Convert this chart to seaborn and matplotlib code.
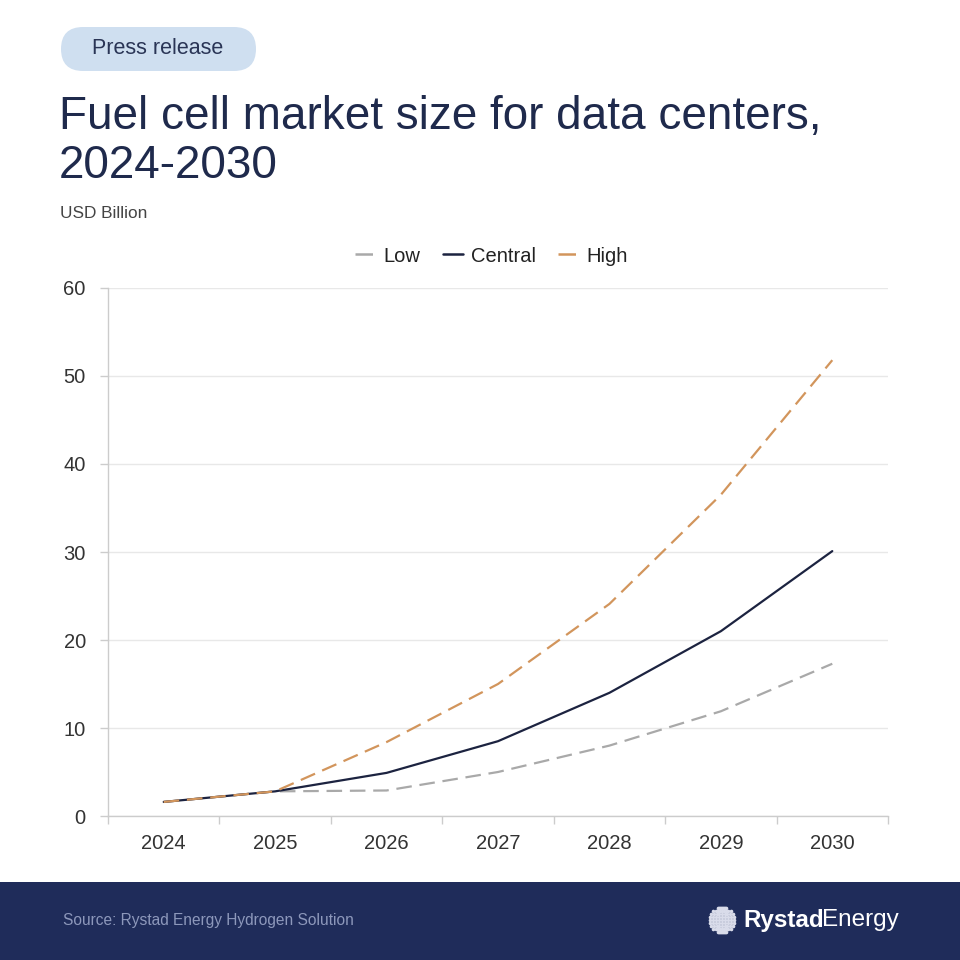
import numpy as np
import pandas as pd
import matplotlib.pyplot as plt
import seaborn as sns
from matplotlib.patches import FancyBboxPatch, Rectangle
from matplotlib.lines import Line2D

years = ['2024', '2025', '2026', '2027', '2028', '2029', '2030']
low = [1.6, 2.8, 2.9, 5.0, 8.0, 11.9, 17.3]
central = [1.6, 2.8, 4.9, 8.5, 14.0, 21.0, 30.1]
high = [1.6, 2.8, 8.4, 15.0, 24.1, 36.5, 51.8]
series = ['Low', 'Central', 'High']
y_ticks = [0, 10, 20, 30, 40, 50, 60]

NAVY = '#1f2a4c'
colors = {'Low': '#a9a9a9', 'Central': '#1c2340', 'High': '#d2955c'}
dashes = {'Low': (7, 3.5), 'Central': '', 'High': (7, 3.5)}

df = pd.DataFrame({'year': list(range(len(years))) * 3,
                   'value': low + central + high,
                   'scenario': [s for s in series for _ in years]})

sns.set_theme(style='white')
plt.rcParams['font.family'] = ['Liberation Sans', 'DejaVu Sans']

fig = plt.figure(figsize=(9.6, 9.6), dpi=100)
ax = fig.add_axes([0.1125, 0.15, 0.8125, 0.55])

sns.lineplot(data=df, x='year', y='value', hue='scenario', style='scenario',
             palette=colors, dashes=dashes, linewidth=1.6, ax=ax, legend=False)

ax.set_xlim(-0.5, len(years) - 0.5)
ax.set_ylim(0, 60)
ax.set_xticks(range(len(years)))
ax.set_xticklabels(years)
ax.set_xticks(np.arange(-0.5, len(years)), minor=True)
ax.set_yticks(y_ticks)
ax.tick_params(axis='x', which='major', length=0, pad=13, labelsize=14.5, labelcolor='#333333')
ax.tick_params(axis='x', which='minor', length=6, width=1, color='#cccccc', direction='out', bottom=True)
ax.tick_params(axis='y', length=6, width=1, color='#cccccc', pad=10, labelsize=14.5, labelcolor='#333333', left=True)
ax.set_xlabel('')
ax.set_ylabel('')
ax.grid(axis='y', color='#e8e8e8', linewidth=1)
for s in ['top', 'right']:
    ax.spines[s].set_visible(False)
for s in ['left', 'bottom']:
    ax.spines[s].set_color('#cccccc')
    ax.spines[s].set_linewidth(1)

handles = [Line2D([], [], color=colors[s], lw=1.8, dashes=dashes[s] if dashes[s] else (None, None))
           for s in series]
fig.legend(handles, series, loc='center', bbox_to_anchor=(0.512, 1 - 256 / 960), ncol=3,
           frameon=False, fontsize=14.5, handlelength=1.0, handletextpad=0.4, columnspacing=1.1,
           labelcolor='#222222')

# header
pill = FancyBboxPatch((61 / 960, 1 - 71 / 960), 195 / 960, 44 / 960,
                      boxstyle='round,pad=0,rounding_size=0.023', transform=fig.transFigure,
                      facecolor='#cfdff0', edgecolor='none')
fig.patches.append(pill)
fig.text(158 / 960, 1 - 49 / 960, 'Press release', ha='center', va='center',
         fontsize=15.5, color='#2a3556')
fig.text(59 / 960, 1 - 129 / 960, 'Fuel cell market size for data centers,', ha='left',
         va='baseline', fontsize=33, color=NAVY)
fig.text(59 / 960, 1 - 178 / 960, '2024-2030', ha='left', va='baseline', fontsize=33, color=NAVY)
fig.text(60 / 960, 1 - 213 / 960, 'USD Billion', ha='left', va='center', fontsize=12.4, color='#444444')

# footer
fig.patches.append(Rectangle((0, 0), 1, 78 / 960, transform=fig.transFigure,
                             facecolor='#1f2c5a', edgecolor='none'))
fig.text(63 / 960, 1 - 920 / 960, 'Source: Rystad Energy Hydrogen Solution', ha='left',
         va='center', fontsize=11.2, color='#8d98bb')

# logo globe
gx, gy, gr = 722 / 960, 1 - 920 / 960, 13 / 960
pts = [(gx + gr * np.sqrt(1 - a ** 2) * b, gy + gr * a)
       for a in np.linspace(-0.95, 0.95, 9) for b in np.linspace(-0.95, 0.95, 9)]
px, py = zip(*pts)
fig.add_artist(Line2D(px, py, linestyle='none', marker='o', markersize=1.6,
                      color='#d9dcea', transform=fig.transFigure))
fig.text(743 / 960, 1 - 920 / 960, 'Rystad', ha='left', va='center', fontsize=17.5,
         fontweight='bold', color='white')
fig.text(822 / 960, 1 - 920 / 960, 'Energy', ha='left', va='center', fontsize=17.5, color='white')

fig.savefig('out.png', dpi=100, facecolor='white')
